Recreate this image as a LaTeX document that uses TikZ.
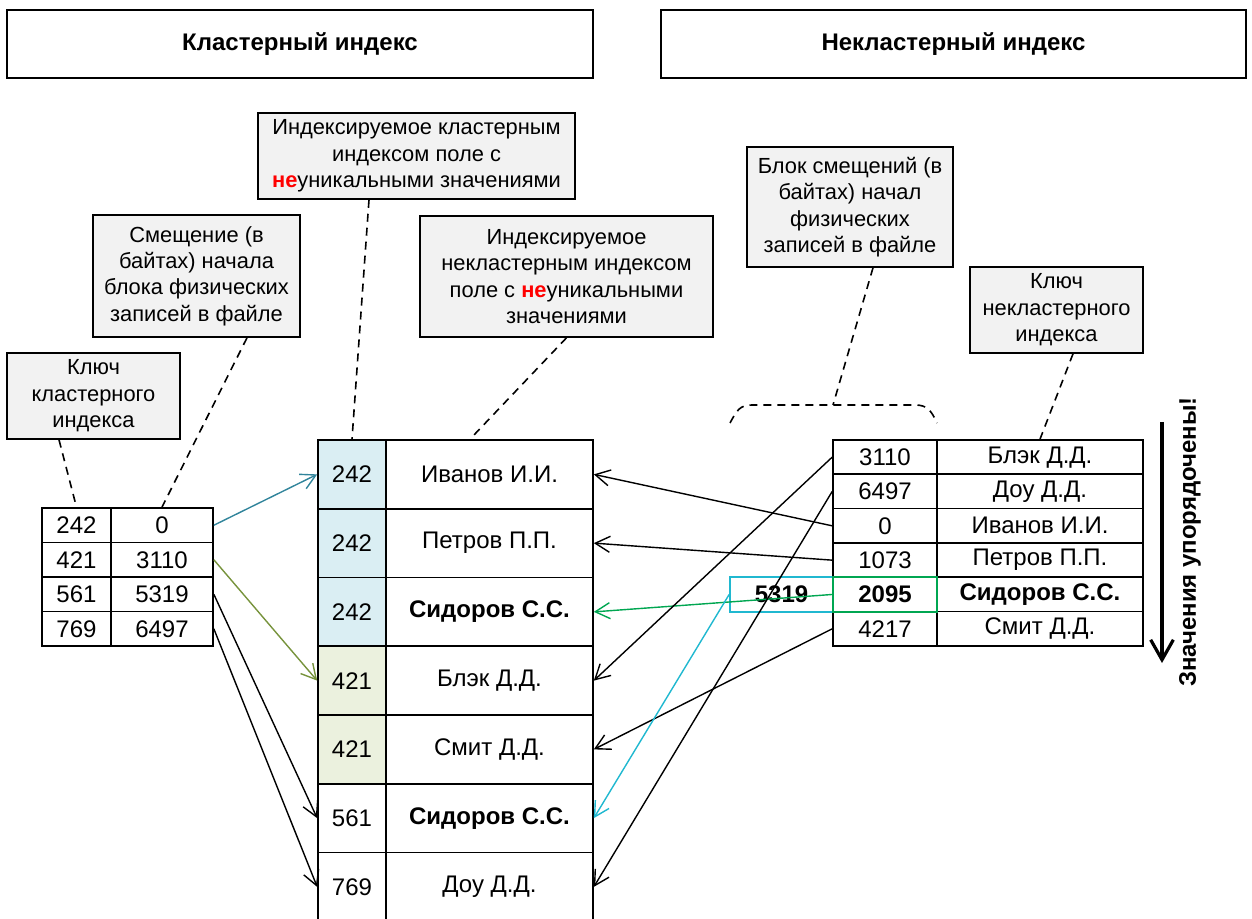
\documentclass[tikz,border=0pt]{standalone}
\usepackage{fontspec}
\setmainfont{Liberation Sans}
\usetikzlibrary{arrows.meta,calc}
\definecolor{callfill}{HTML}{F2F2F2}
\definecolor{mblue}{HTML}{DAEEF3}
\definecolor{mgreen}{HTML}{EBF1DE}
\definecolor{ablue}{HTML}{31849B}
\definecolor{aolive}{HTML}{77933C}
\definecolor{hlgreen}{HTML}{00A651}
\definecolor{hlcyan}{HTML}{20B8D0}
\newcommand{\redne}{{\color{red}\bfseries не}}
\begin{document}
\begin{tikzpicture}[x=0.75pt,y=-0.75pt,
  cellbase/.style={draw, line width=1.25pt, inner sep=0pt, font=\fontsize{18}{21}\selectfont},
  lk/.style={cellbase, minimum width=69*0.75pt, minimum height=34.5*0.75pt},
  lv/.style={cellbase, minimum width=102*0.75pt, minimum height=34.5*0.75pt},
  mk/.style={cellbase, minimum width=68*0.75pt, minimum height=68.75*0.75pt},
  mv/.style={cellbase, minimum width=207*0.75pt, minimum height=68.75*0.75pt},
  rk/.style={cellbase, minimum width=104*0.75pt, minimum height=34.33*0.75pt},
  rv/.style={cellbase, minimum width=206*0.75pt, minimum height=34.33*0.75pt},
  titlebox/.style={draw, line width=1.3pt, inner sep=0pt, minimum height=68*0.75pt, font=\bfseries\fontsize{18}{21}\selectfont},
  callout/.style={draw, fill=callfill, line width=1.2pt, inner sep=0pt, align=center, font=\fontsize{16.4}{19.8}\selectfont},
  conn/.style={line width=1.05pt, -{Straight Barb[length=11pt,width=12pt]}},
  ptr/.style={line width=1.2pt, dash pattern=on 6pt off 4.5pt}
]
\useasboundingbox (0,0) rectangle (1252,919);

% titles
\node[titlebox, minimum width=586*0.75pt] (T1) at (300,44) {Кластерный индекс};
\node[titlebox, minimum width=585*0.75pt] (T2) at (953.5,44) {Некластерный индекс};

% callouts
\node[callout, minimum width=173*0.75pt, minimum height=86*0.75pt] (C1) at (93.5,396) {Ключ\\кластерного\\индекса};
\node[callout, minimum width=207*0.75pt, minimum height=122*0.75pt] (C2) at (196.5,276) {Смещение (в\\байтах) начала\\блока физических\\записей в файле};
\node[callout, minimum width=317*0.75pt, minimum height=86*0.75pt] (C3) at (416.5,156) {Индексируемое кластерным\\индексом поле с\\\redne уникальными значениями};
\node[callout, minimum width=293*0.75pt, minimum height=121*0.75pt] (C4) at (566.5,276.5) {Индексируемое\\некластерным индексом\\поле с \redne уникальными\\значениями};
\node[callout, minimum width=206*0.75pt, minimum height=120*0.75pt] (C5) at (850,207) {Блок смещений (в\\байтах) начал\\физических\\записей в файле};
\node[callout, minimum width=173*0.75pt, minimum height=86*0.75pt] (C6) at (1056.5,310) {Ключ\\некластерного\\индекса};

% left table
\foreach \k/\v [count=\i] in {242/0, 421/3110, 561/5319, 769/6497} {
  \node[lk] (La\i) at (76.5,{508+34.5*(\i-0.5)}) {\k};
  \node[lv] (Lb\i) at (162,{508+34.5*(\i-0.5)}) {\v};
}

% middle table
\foreach \k/\v/\f [count=\i] in {242/Иванов И.И./mblue, 242/Петров П.П./mblue, 242/\textbf{Сидоров С.С.}/mblue, 421/Блэк Д.Д./mgreen, 421/Смит Д.Д./mgreen, 561/\textbf{Сидоров С.С.}/white, 769/Доу Д.Д./white} {
  \node[mk, fill=\f] (Ma\i) at (352,{440+68.75*(\i-0.5)}) {\k};
  \node[mv] (Mb\i) at (489.5,{440+68.75*(\i-0.5)}) {\v};
}

% right table
\foreach \k/\v [count=\i] in {3110/Блэк Д.Д., 6497/Доу Д.Д., 0/Иванов И.И., 1073/Петров П.П., \textbf{2095}/\textbf{Сидоров С.С.}, 4217/Смит Д.Д.} {
  \node[rk] (Ra\i) at (885,{440+34.33*(\i-0.5)}) {\k};
  \node[rv] (Rb\i) at (1040,{440+34.33*(\i-0.5)}) {\v};
}

% highlight boxes
\node[draw=hlcyan, line width=1.3pt, inner sep=0pt, minimum width=103*0.75pt, minimum height=34.33*0.75pt, font=\bfseries\fontsize{18}{21}\selectfont] (H) at (781.5,594.5) {5319};
\node[draw=hlgreen, line width=1.4pt, inner sep=0pt, minimum width=104*0.75pt, minimum height=34.33*0.75pt] (G) at (Ra5.center) {};

% left arrows
\draw[conn, draw=ablue] (Lb1.east) -- (Ma1.west);
\draw[conn, draw=aolive] (Lb2.east) -- (Ma4.west);
\draw[conn] (Lb3.east) -- (Ma6.west);
\draw[conn] (Lb4.east) -- (Ma7.west);

% right arrows
\draw[conn] (Ra3.west) -- (Mb1.east);
\draw[conn] (Ra4.west) -- (Mb2.east);
\draw[conn, draw=hlgreen] (G.west) -- (Mb3.east);
\draw[conn] (Ra1.west) -- (Mb4.east);
\draw[conn] (Ra6.west) -- (Mb5.east);
\draw[conn] (Ra2.west) -- (Mb7.east);
\draw[conn, draw=hlcyan] (H.west) -- (Mb6.east);

% dashed pointers
\coordinate (bt) at (833,405);
\coordinate (bl) at (730,423);
\coordinate (br) at (937,423);
\draw[ptr] ($(C1.south)+(-34.5,0)$) -- (La1.north);
\draw[ptr] ($(C2.south)+(50.5,0)$) -- (Lb1.north);
\draw[ptr] ($(C3.south)+(-47.5,0)$) -- (Ma1.north);
\draw[ptr] (C4.south) -- ($(Mb1.north)+(-19.5,0)$);
\draw[ptr] ($(C5.south)+(23,0)$) -- (bt);
\draw[ptr] ($(C6.south)+(16.5,0)$) -- (Rb1.north);
\draw[ptr] (bl) .. controls (737,410) and (740,405) .. (752,405) -- (bt) -- (915,405) .. controls (927,405) and (931,410) .. (br);

% sorted arrow
\coordinate (vt) at (1162,422);
\coordinate (vb) at (1162,663);
\draw[line width=2.4pt, -{Straight Barb[length=15pt,width=17pt]}] (vt) -- (vb);
\node[rotate=90, font=\bfseries\fontsize{18}{21}\selectfont] (VT) at (1190,542) {Значения упорядочены!};
\end{tikzpicture}
\end{document}
